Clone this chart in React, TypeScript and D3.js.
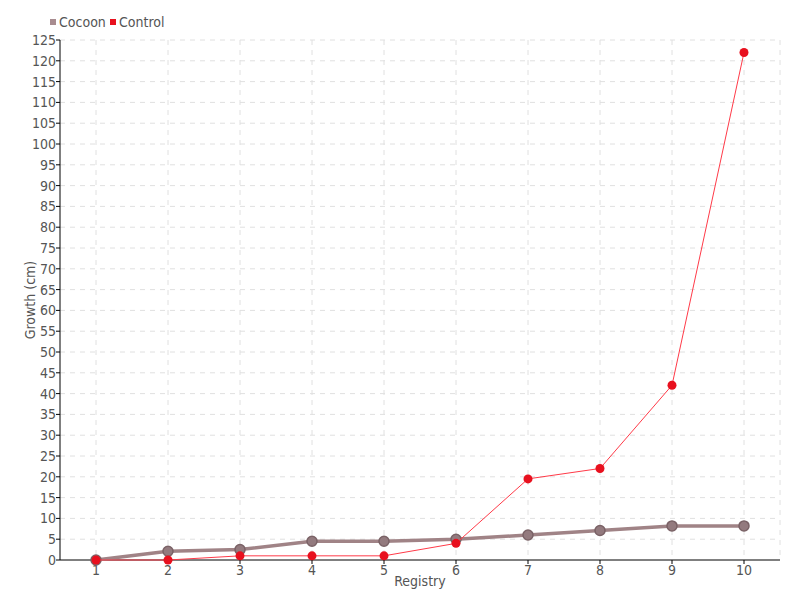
import React from "react";
import * as d3 from "d3";

const categories = ["1", "2", "3", "4", "5", "6", "7", "8", "9", "10"];
const cocoon = [0, 2.1, 2.5, 4.5, 4.5, 5, 6, 7.1, 8.2, 8.2];
const control = [0, 0, 1, 1, 1, 4, 19.5, 22, 42, 122];
const yTicks = d3.range(0, 126, 5);

const W = 800, H = 600;
const m = { left: 60, right: 20, top: 40, bottom: 40 };
const FONT = "'Liberation Sans Narrow', 'DejaVu Sans Condensed', 'Roboto', sans-serif";
const TXT = "#555";

export default function App() {
  const x = d3.scaleBand<string>().domain(categories).range([m.left, W - m.right]);
  const y = d3.scaleLinear().domain([0, 125]).range([H - m.bottom, m.top]);
  const cx = (c: string) => (x(c) as number) + x.bandwidth() / 2;
  const line = d3.line<number>().x((_, i) => cx(categories[i])).y((d) => y(d));
  const x0 = m.left, x1 = W - m.right, y0 = H - m.bottom, y1 = m.top;

  return (
    <svg width={W} height={H} style={{ position: "absolute", left: 0, top: 0, background: "#fff" }} fontFamily={FONT}>
      {/* grid */}
      {yTicks.filter((t) => t > 0).map((t) => (
        <line key={"gy" + t} x1={x0} x2={x1} y1={y(t)} y2={y(t)} stroke="#e0e0e0" strokeDasharray="5,5" />
      ))}
      {categories.map((c) => (
        <line key={"gx" + c} x1={cx(c)} x2={cx(c)} y1={y1} y2={y0} stroke="#e0e0e0" strokeDasharray="5,5" />
      ))}
      <line x1={x1} x2={x1} y1={y1} y2={y0} stroke="#e0e0e0" strokeDasharray="5,5" />
      {/* axes */}
      <line x1={x0} x2={x0} y1={y1} y2={y0} stroke="#000" />
      <line x1={x0} x2={x1} y1={y0} y2={y0} stroke="#000" />
      {yTicks.map((t) => (
        <g key={"ty" + t}>
          <line x1={x0 - 4} x2={x0} y1={y(t)} y2={y(t)} stroke="#000" />
          <text x={x0 - 4} y={y(t)} dy="0.35em" textAnchor="end" fontSize={14} fill={TXT}>{t}</text>
        </g>
      ))}
      {categories.map((c) => (
        <g key={"tx" + c}>
          <line x1={cx(c)} x2={cx(c)} y1={y0} y2={y0 + 4} stroke="#000" />
          <text x={cx(c)} y={y0 + 10} dy="0.35em" textAnchor="middle" fontSize={14} fill={TXT}>{c}</text>
        </g>
      ))}
      <text x={(x0 + x1) / 2} y={586} textAnchor="middle" fontSize={14} fill={TXT}>Registry</text>
      <text transform={`translate(35,${(y0 + y1) / 2}) rotate(-90)`} textAnchor="middle" fontSize={14} fill={TXT}>Growth (cm)</text>
      {/* series */}
      <path d={line(cocoon) as string} fill="none" stroke="#a08386" strokeWidth={3.5} />
      {cocoon.map((v, i) => (
        <circle key={"c" + i} cx={cx(categories[i])} cy={y(v)} r={5} fill="#937a7e" stroke="#7a6266" strokeWidth={1.5} />
      ))}
      <path d={line(control) as string} fill="none" stroke="#ff3a48" strokeWidth={1} />
      {control.map((v, i) => (
        <circle key={"r" + i} cx={cx(categories[i])} cy={y(v)} r={4.5} fill="#e8101e" />
      ))}
      {/* legend */}
      <rect x={50} y={19} width={6} height={6} fill="#a88c90" />
      <text x={59} y={22} dy="0.35em" fontSize={14} fill={TXT}>Cocoon</text>
      <rect x={110} y={19} width={6} height={6} fill="#e8101e" />
      <text x={119} y={22} dy="0.35em" fontSize={14} fill={TXT}>Control</text>
    </svg>
  );
}
